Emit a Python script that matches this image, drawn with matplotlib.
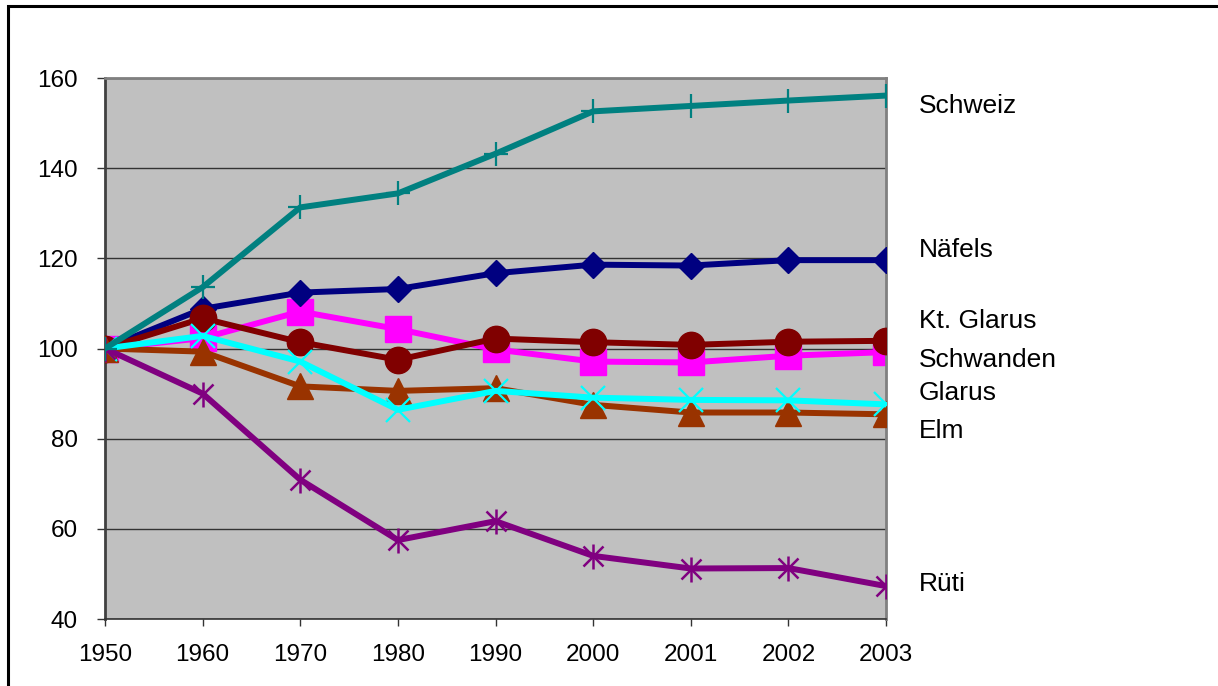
import matplotlib
matplotlib.use("Agg")
import matplotlib.pyplot as plt
from matplotlib.patches import Rectangle

plt.rcParams['font.family'] = ['Liberation Sans', 'DejaVu Sans']

years = ["1950", "1960", "1970", "1980", "1990", "2000", "2001", "2002", "2003"]

schweiz   = [100, 113.6, 131.3, 134.4, 143.2, 152.6, 153.8, 155.0, 156.1]
naefels   = [100, 108.8, 112.4, 113.2, 116.7, 118.6, 118.4, 119.6, 119.6]
kt_glarus = [100, 106.7, 101.4, 97.5, 102.2, 101.4, 100.8, 101.5, 101.7]
schwanden = [100, 102.3, 108.2, 104.3, 99.8, 97.1, 96.9, 98.4, 99.2]
glarus    = [100, 102.8, 97.1, 86.4, 90.6, 89.1, 88.6, 88.5, 87.6]
elm       = [100, 99.3, 91.6, 90.6, 91.2, 87.5, 85.8, 85.8, 85.4]
rueti     = [100, 90.0, 70.9, 57.5, 61.7, 54.0, 51.2, 51.3, 47.3]

labels = ["Schweiz", "Näfels", "Kt. Glarus", "Schwanden", "Glarus", "Elm", "Rüti"]
# baseline heights of the series names beside the plot
label_y = [152.3, 120.3, 104.5, 95.8, 88.6, 80.1, 46.2]

fig = plt.figure(figsize=(12.18, 6.86), dpi=100)
ax = fig.add_axes([105/1218, 1 - 619/686, 781/1218, 541/686])
ax.set_facecolor('#C0C0C0')

x = list(range(len(years)))

# series styles: (values, color, marker, size, zorder)
series = [
    (schwanden, '#FF00FF', 's', 19, 2),
    (naefels,   '#000080', 'D', 13, 3),
    (kt_glarus, '#800000', 'o', 19, 4),
    (elm,       '#993300', '^', 19, 5),
    (glarus,    '#00FFFF', 'x', 17, 6),
    (rueti,     '#800080', '*', 18, 7),
    (schweiz,   '#008080', '+', 17, 8),
]
for vals, col, mk, ms, z in series:
    if mk == '*':
        # star marker: a vertical bar crossed by an x
        ax.plot(x, vals, color=col, lw=4.3, zorder=z)
        ax.plot(x, vals, color=col, lw=0, marker='|', ms=ms, mew=1.8, zorder=z + 0.1)
        ax.plot(x, vals, color=col, lw=0, marker='x', ms=ms * 0.8, mew=1.8, zorder=z + 0.1)
    elif mk in ('+', 'x'):
        ax.plot(x, vals, color=col, lw=4.3, marker=mk, ms=ms, mew=1.6, zorder=z)
    else:
        ax.plot(x, vals, color=col, lw=4.3, marker=mk, ms=ms, mec=col, mfc=col, zorder=z)

ax.set_xlim(0, len(years) - 1)
ax.set_ylim(40, 160)
ax.set_yticks(range(40, 161, 20))
ax.set_xticks(x)
ax.set_xticklabels(years)
ax.yaxis.grid(True, color='#333333', lw=1.0)
ax.set_axisbelow(True)

for side in ('top', 'right'):
    ax.spines[side].set_color('#808080')
    ax.spines[side].set_linewidth(2)
ax.spines['left'].set_color('#404040')
ax.spines['left'].set_linewidth(2)
ax.spines['bottom'].set_color('#333333')
ax.spines['bottom'].set_linewidth(1.2)

ax.tick_params(axis='y', length=5.5, width=1, color='#333333', pad=14, labelsize=17.5)
ax.tick_params(axis='x', length=5, width=1, color='#333333', pad=13, labelsize=17.5)

for name, yv in zip(labels, label_y):
    ax.annotate(name, xy=(1.0, yv), xycoords=('axes fraction', 'data'),
                xytext=(23.5, 0), textcoords='offset points',
                ha='left', va='baseline', fontsize=19, annotation_clip=False)

# frame around the chart area
fig.patches.append(Rectangle((8/1218, -0.1), 1.2, 1 - 6/686 + 0.1,
                             transform=fig.transFigure, fill=False,
                             ec='black', lw=2.2))

fig.savefig('out.png', dpi=100)
